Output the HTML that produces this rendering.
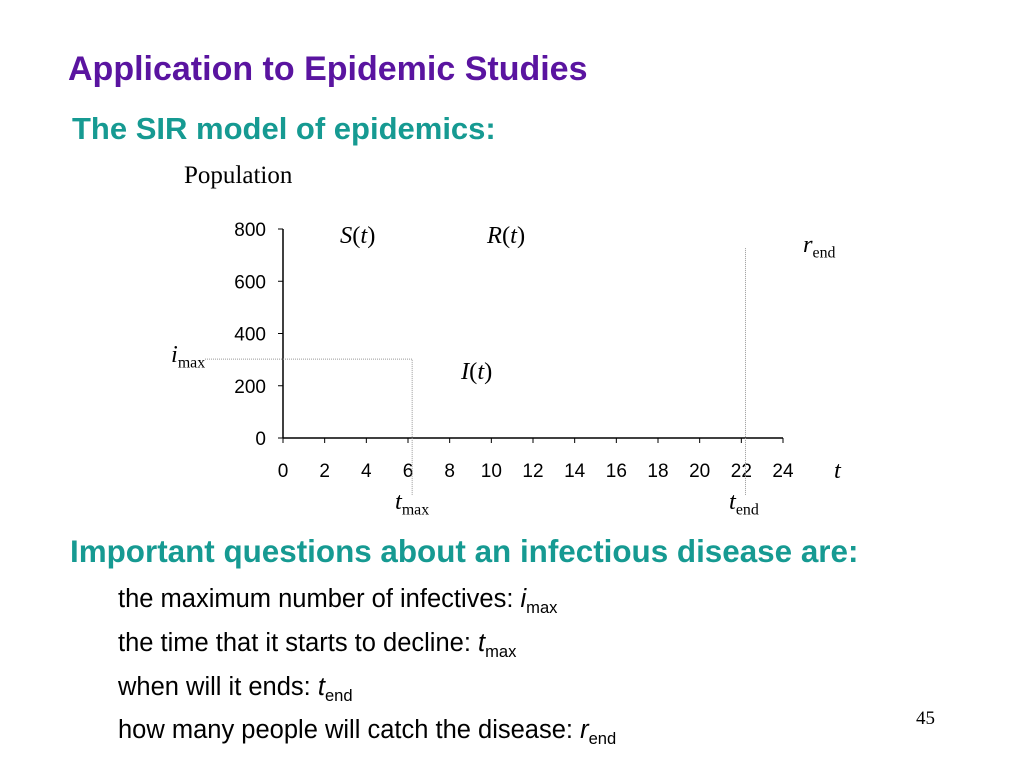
<!DOCTYPE html>
<html><head><meta charset="utf-8"><style>
body{margin:0;width:1024px;height:768px;background:#fff;position:relative;overflow:hidden;font-family:"Liberation Sans",sans-serif}
.a{position:absolute;white-space:nowrap}
.ser{font-family:"Liberation Serif",serif}
sub{font-size:65%;vertical-align:-0.35em}
</style></head><body>
<div class="a" style="left:68px;top:50px;font-size:34px;font-weight:bold;color:#5a14a0">Application to Epidemic Studies</div>
<div class="a" style="left:72px;top:111px;font-size:31px;font-weight:bold;color:#169a92">The SIR model of epidemics:</div>
<div class="a ser" style="left:184px;top:162px;font-size:25px">Population</div>
<svg class="a" style="left:0;top:0" width="1024" height="768">
<g id="axes" font-family="Liberation Sans, sans-serif" font-size="19" fill="#000"></g>
<g id="marks"></g>
</svg>
<div class="a ser" style="left:340px;top:222px;font-size:24.5px"><i>S</i>(<i>t</i>)</div>
<div class="a ser" style="left:487px;top:222px;font-size:24.5px"><i>R</i>(<i>t</i>)</div>
<div class="a ser" style="left:461px;top:358px;font-size:24.5px"><i>I</i>(<i>t</i>)</div>
<div class="a ser" style="left:803px;top:231px;font-size:24.5px"><i>r</i><sub>end</sub></div>
<div class="a ser" style="left:171px;top:341px;font-size:24.5px"><i>i</i><sub>max</sub></div>
<div class="a ser" style="left:395px;top:488px;font-size:24.5px"><i>t</i><sub>max</sub></div>
<div class="a ser" style="left:729px;top:488px;font-size:24.5px"><i>t</i><sub>end</sub></div>
<div class="a ser" style="left:834px;top:457px;font-size:24.5px"><i>t</i></div>
<div class="a" style="left:70px;top:534px;font-size:31.4px;font-weight:bold;color:#169a92">Important questions about an infectious disease are:</div>
<div class="a" style="left:118px;top:585px;font-size:25.5px">the maximum number of infectives: <i>i</i><sub>max</sub></div>
<div class="a" style="left:118px;top:629px;font-size:25.5px">the time that it starts to decline: <i>t</i><sub>max</sub></div>
<div class="a" style="left:118px;top:673px;font-size:25.5px">when will it ends: <i>t</i><sub>end</sub></div>
<div class="a" style="left:118px;top:716px;font-size:25.5px">how many people will catch the disease: <i>r</i><sub>end</sub></div>
<div class="a ser" style="left:916px;top:708px;font-size:19px">45</div>
<script>
const xTicks=[0,2,4,6,8,10,12,14,16,18,20,22,24];
const yTicks=[0,200,400,600,800];
const iMax=[302];
const tMax=[6.2];
const tEnd=[22.2];
const rEnd=[727];
const X=v=>283+v*(783-283)/24, Y=v=>438-v*(438-229)/800;
const NS="http://www.w3.org/2000/svg";
const ax=document.getElementById('axes'), mk=document.getElementById('marks');
function el(t,a,p){const e=document.createElementNS(NS,t);for(const k in a)e.setAttribute(k,a[k]);p.appendChild(e);return e;}
let l=el('line',{x1:X(0),y1:Y(0),x2:X(24),y2:Y(0),stroke:'#000','stroke-width':1.5},ax);


l=el('line',{x1:X(0),y1:Y(0),x2:X(0),y2:Y(800),stroke:'#000','stroke-width':1.5},ax);


xTicks.forEach(v=>{el('line',{x1:X(v),y1:Y(0),x2:X(v),y2:Y(0)+5,stroke:'#000'},ax);
const t=el('text',{x:X(v),y:477,'text-anchor':'middle'},ax);t.textContent=v;

});
yTicks.forEach(v=>{el('line',{x1:X(0)-5,y1:Y(v),x2:X(0),y2:Y(v),stroke:'#000'},ax);
const t=el('text',{x:266,y:Y(v)+7,'text-anchor':'end'},ax);t.textContent=v;

});
const d={stroke:'#999','stroke-width':1,'stroke-dasharray':'1,1',fill:'none'};
let p=el('polyline',Object.assign({points:`205,${Y(iMax[0])} ${X(tMax[0])},${Y(iMax[0])} ${X(tMax[0])},495`},d),mk);


p=el('line',Object.assign({x1:X(tEnd[0]),y1:Y(rEnd[0]),x2:X(tEnd[0]),y2:495},d),mk);


</script>
</body></html>
